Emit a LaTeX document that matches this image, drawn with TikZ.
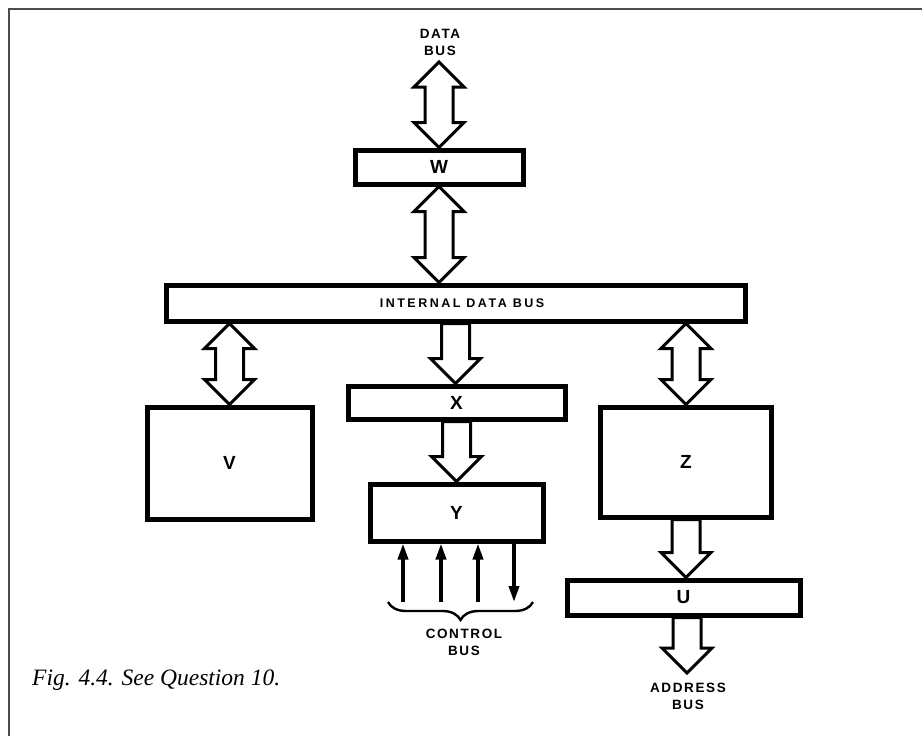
\documentclass[tikz,border=0pt]{standalone}
\usepackage{fontspec}
\setmainfont{Liberation Serif}
\newfontfamily\labfont[LetterSpace=12.0]{Liberation Sans}
\newfontfamily\widefont[LetterSpace=20.0]{Liberation Sans}
\newfontfamily\boxfont{Liberation Sans}
\usetikzlibrary{arrows.meta,calc,decorations.pathreplacing}
\newcommand\fatdouble[2]{%
  \path[fatarrow] let \p1=(#1), \p2=(#2) in
    (\x1,\y1) -- (\x1+25pt,\y1-25pt) -- (\x1+14pt,\y1-25pt) -- (\x1+14pt,\y2+25pt)
    -- (\x1+25pt,\y2+25pt) -- (\x1,\y2) -- (\x1-25pt,\y2+25pt) -- (\x1-14pt,\y2+25pt)
    -- (\x1-14pt,\y1-25pt) -- (\x1-25pt,\y1-25pt) -- cycle;}
\newcommand\fatdown[2]{%
  \path[fatarrow] let \p1=(#1), \p2=(#2) in
    (\x1-14pt,\y1) -- (\x1+14pt,\y1) -- (\x1+14pt,\y2+25pt) -- (\x1+25pt,\y2+25pt)
    -- (\x1,\y2) -- (\x1-25pt,\y2+25pt) -- (\x1-14pt,\y2+25pt) -- cycle;}
\begin{document}
\begin{tikzpicture}[x=1pt,y=-1pt,
  blk/.style={draw=black,line width=5pt,fill=white,inner sep=0pt,
    font=\boxfont\bfseries\fontsize{19}{19}\selectfont},
  fatarrow/.style={draw=black,line width=3pt,fill=white,line join=miter},
  lbl/.style={font=\labfont\bfseries\fontsize{13.5}{17}\selectfont,align=center,inner sep=0pt},
  ctl/.style={line width=3.6pt,-{Triangle[width=10pt,length=16pt]}},
  frame/.style={draw=black!70,line width=2.5pt}]
\useasboundingbox (0,0) rectangle (922,736);
% frame
\draw[frame] (9,736) -- (9,9) -- (922,9);
% boxes
\node[blk,minimum width=168pt,minimum height=34pt] (w) at (439,167) {W};
\node[blk,minimum width=579pt,minimum height=36pt] (ibus) at (455.5,303) {};
\node[lbl,font=\widefont\bfseries\fontsize{12.5}{14}\selectfont] (ibuslabel) at (462,303) {INTERNAL DATA BUS};
\node[blk,minimum width=165pt,minimum height=112pt] (v) at (229.5,463) {V};
\node[blk,minimum width=217pt,minimum height=33pt] (x) at (456.5,402.5) {X};
\node[blk,minimum width=173pt,minimum height=57pt] (y) at (456.5,512.5) {Y};
\node[blk,minimum width=171pt,minimum height=110pt] (z) at (686,462) {Z};
\node[blk,minimum width=233pt,minimum height=35pt] (u) at (683.5,597.5) {U};
% labels
\node[lbl] (dbl) at (440,42) {DATA\\BUS};
\node[lbl] (cbl) at (464,642) {CONTROL\\BUS};
\node[lbl] (abl) at (688,696) {ADDRESS\\BUS};
\node[font=\itshape\fontsize{23.5}{23.5}\selectfont,anchor=base west,inner sep=0pt] (cap) at (32,685) {Fig. 4.4. See Question 10.};
% free ends
\coordinate (dtop) at (439,62);
\coordinate (atip) at (687,673);
% fat arrows
\fatdouble{dtop}{w.north}
\fatdouble{w.south}{w.south |- ibus.north}
\fatdouble{ibus.south -| v.north}{v.north}
\fatdouble{ibus.south -| z.north}{z.north}
\fatdown{ibus.south}{x.north}
\fatdown{x.south}{y.north}
\fatdown{z.south}{z.south |- u.north}
\fatdown{u.south -| atip}{atip}
% control lines
\coordinate (c1) at (403,602);
\coordinate (c2) at (441,602);
\coordinate (c3) at (478,602);
\coordinate (c4) at (514,602);
\draw[ctl] (c1) -- (c1 |- y.south);
\draw[ctl] (c2) -- (c2 |- y.south);
\draw[ctl] (c3) -- (c3 |- y.south);
\draw[ctl] (c4 |- y.south) -- (c4);
% brace
\coordinate (b1) at (388,602);
\coordinate (b2) at (533,602);
\draw[line width=2.4pt,decorate,decoration={brace,mirror,amplitude=18pt}] (b1) -- (b2);
\end{tikzpicture}
\end{document}
